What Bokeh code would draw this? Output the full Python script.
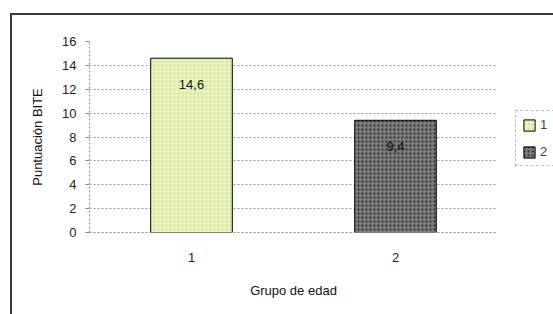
from bokeh.plotting import figure
from bokeh.models import ColumnDataSource, Legend, LegendItem, Range1d, FixedTicker
from bokeh.core.properties import value
from bokeh.embed import file_html
from bokeh.resources import INLINE

groups = ["1", "2"]
scores = [14.6, 9.4]
score_labels = ["14,6", "9,4"]
fills = ["#e6f5bf", "#7a7a7a"]
hatch_cols = ["#d6d983", "#262626"]
y_ticks = [0, 2, 4, 6, 8, 10, 12, 14, 16]

src = ColumnDataSource(dict(g=groups, v=scores, lab=score_labels, f=fills, hc=hatch_cols))

FONT = "Liberation Sans"

p = figure(x_range=groups, y_range=Range1d(0, 16), frame_width=408, frame_height=191,
           output_backend="svg", toolbar_location=None,
           min_border_left=77, min_border_right=56, min_border_top=26, min_border_bottom=82)
p.styles = {"margin-left": "10px", "margin-top": "13px",
            "border-left": "2px solid #3a3a3a", "border-top": "2px solid #3a3a3a"}
p.outline_line_color = None

r = p.vbar(x="g", top="v", width=0.4, source=src, fill_color="f", line_color="black",
           line_width=1, hatch_pattern="dot", hatch_color="hc", hatch_scale=4, hatch_weight=1.5)

p.text(x="g", y="v", text="lab", source=src, y_offset=26, text_align="center",
       text_baseline="middle", text_font=value(FONT), text_font_size="13px", text_color="#111111")

p.yaxis.ticker = FixedTicker(ticks=y_ticks)
p.ygrid.ticker = FixedTicker(ticks=y_ticks)
p.xgrid.grid_line_color = None
p.ygrid.grid_line_color = "#9a9a9a"
p.ygrid.grid_line_dash = "2 2"

for ax in (p.xaxis, p.yaxis):
    ax.axis_line_color = "#8a8a8a"
    ax.axis_line_dash = "2 2"
    ax.major_tick_line_color = "#8a8a8a"
    ax.minor_tick_line_color = None
    ax.major_label_text_font = FONT
    ax.major_label_text_font_size = "13px"
    ax.major_label_text_color = "#222222"
    ax.axis_label_text_font = FONT
    ax.axis_label_text_font_size = "13px"
    ax.axis_label_text_font_style = "normal"
    ax.axis_label_text_color = "#111111"

p.yaxis.major_tick_out = 4
p.yaxis.major_tick_in = 0
p.yaxis.major_label_standoff = 9
p.yaxis.axis_label = "Puntuación BITE"
p.yaxis.axis_label_standoff = 14

p.xaxis.major_tick_line_color = None
p.xaxis.major_label_standoff = 14
p.xaxis.axis_label = "Grupo de edad"
p.xaxis.axis_label_standoff = 18

legend = Legend(items=[LegendItem(label=groups[0], renderers=[r], index=0),
                       LegendItem(label=groups[1], renderers=[r], index=1)],
                location=(18, 66), orientation="vertical",
                border_line_color="#777777", border_line_dash="2 2",
                background_fill_color="white", background_fill_alpha=1,
                label_text_font=FONT, label_text_font_size="13px",
                glyph_width=14, glyph_height=14, spacing=12, padding=6, margin=0,
                label_standoff=4, label_width=8)
p.add_layout(legend, "right")

open("out.html", "w").write(file_html(p, INLINE))
